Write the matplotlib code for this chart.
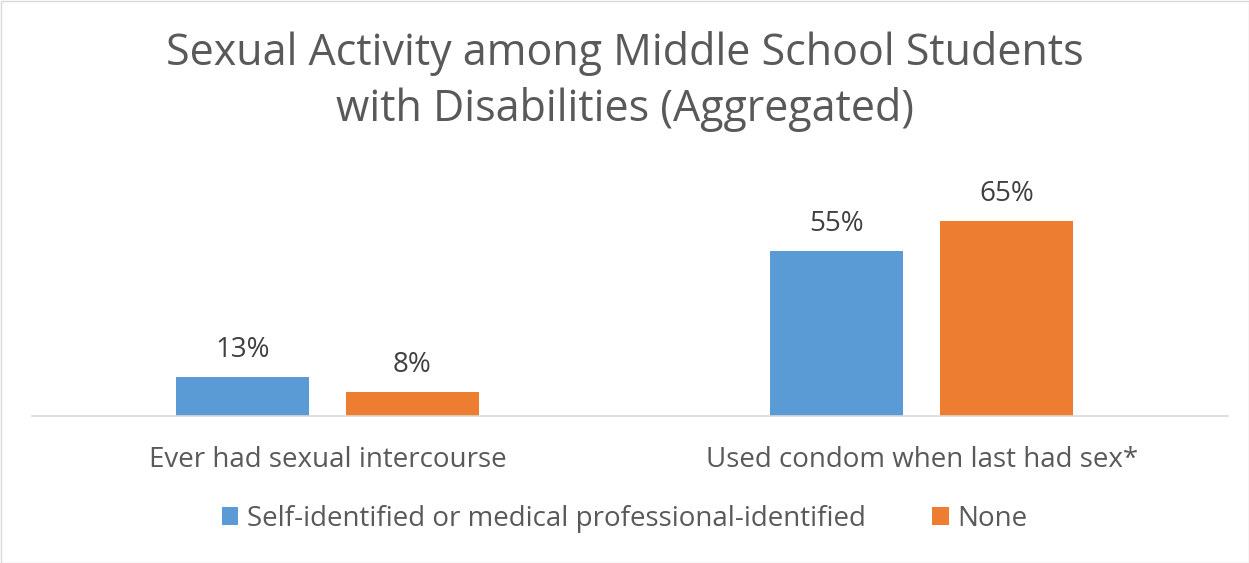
import matplotlib.pyplot as plt
import numpy as np
from matplotlib.patches import Rectangle

categories = ['Ever had sexual intercourse', 'Used condom when last had sex*']
series_names = ['Self-identified or medical professional-identified', 'None']
disabled = [13, 55]
none = [8, 65]
colors = ['#5B9BD5', '#ED7D31']
text_gray = '#595959'

plt.rcParams['font.family'] = ['Open Sans', 'DejaVu Sans']

W, H = 1249, 563
fig = plt.figure(figsize=(W / 100, H / 100), dpi=100)
# axes in pixel terms: x 32..1228, baseline at y=416, top at y=206 (3 px per %)
ax = fig.add_axes([32 / W, (H - 416) / H, 1196 / W, 210 / H])

x = np.arange(len(categories))
w = 0.224
off = 0.143
b1 = ax.bar(x - off, disabled, w, color=colors[0], label=series_names[0])
b2 = ax.bar(x + off, none, w, color=colors[1], label=series_names[1])

for bars, vals in [(b1, disabled), (b2, none)]:
    for rect, v in zip(bars, vals):
        ax.annotate(f'{v}%', (rect.get_x() + rect.get_width() / 2, v),
                    xytext=(0, 14.5), textcoords='offset points',
                    ha='center', va='baseline', fontsize=20, color='#404040')

ax.set_xlim(-0.497, 1.515)
ax.set_ylim(0, 70)
ax.set_xticks(x)
ax.set_xticklabels(categories, fontsize=20, color=text_gray)
for lbl in ax.get_xticklabels():
    lbl.set_va('baseline')
ax.tick_params(axis='x', length=0, pad=37)
ax.set_yticks([])
for s in ['top', 'left', 'right']:
    ax.spines[s].set_visible(False)
ax.spines['bottom'].set_color('#D9D9D9')
ax.spines['bottom'].set_linewidth(1.2)

fig.text(0.5, 1 - 65 / H, 'Sexual Activity among Middle School Students',
         ha='center', va='baseline', fontsize=31, color=text_gray)
fig.text(0.5, 1 - 121 / H, 'with Disabilities (Aggregated)',
         ha='center', va='baseline', fontsize=31, color=text_gray)

fig.legend(handles=[b1, b2], loc='center', bbox_to_anchor=(0.5, (H - 519) / H),
           ncol=2, frameon=False, fontsize=20, labelcolor=text_gray,
           handlelength=0.6, handleheight=0.6, columnspacing=2.4, handletextpad=0.3)

fig.patches.append(Rectangle((0.5 / W, 0.5 / H), 1 - 1 / W, 1 - 1 / H,
                             transform=fig.transFigure, fill=False,
                             edgecolor='#D9D9D9', linewidth=1))

fig.savefig('out.png', dpi=100)
